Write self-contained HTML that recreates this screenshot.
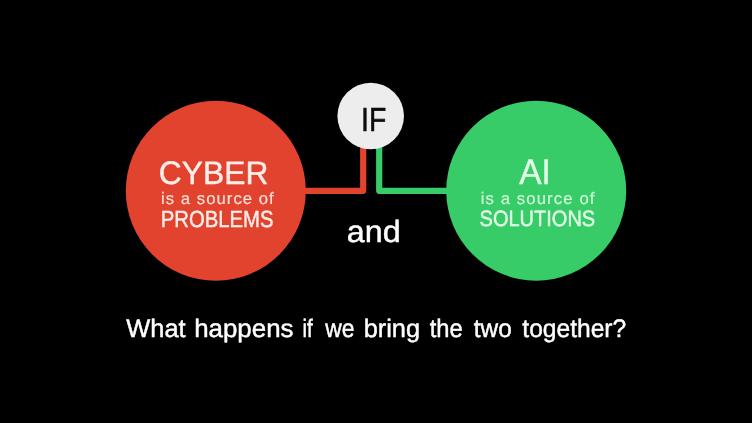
<!DOCTYPE html>
<html lang="en">
<head>
<meta charset="utf-8">
<title>Cyber and AI</title>
<style>
  html, body { margin: 0; padding: 0; background: #000; }
  body { width: 752px; height: 423px; overflow: hidden; }
  svg { display: block; will-change: transform; -webkit-font-smoothing: antialiased; }
  text { font-family: "Liberation Sans", sans-serif; text-rendering: geometricPrecision; }
  .hv { stroke: #fff; stroke-width: 0.45px; stroke-linejoin: round; }
</style>
</head>
<body>
<svg width="752" height="423" viewBox="0 0 752 423">
  <rect x="0" y="0" width="752" height="423" fill="#000"/>

  <!-- connectors -->
  <polyline points="300,190.8 363.2,190.8 363.2,140" fill="none" stroke="#e2432f" stroke-width="6.2" stroke-linejoin="round"/>
  <polyline points="450,190.8 379.2,190.8 379.2,140" fill="none" stroke="#37cc67" stroke-width="6.2" stroke-linejoin="round"/>

  <!-- circles -->
  <circle cx="215.8" cy="190.8" r="90" fill="#e2432f"/>
  <circle cx="536.2" cy="190.7" r="90" fill="#37cc67"/>
  <circle cx="370.7" cy="116" r="33.3" fill="#ededed"/>

  <!-- IF -->
  <text id="t-if" x="373.6" y="130.9" font-size="33.3" text-anchor="middle" fill="#0c0c0c" stroke="#0c0c0c" stroke-width="0.55" textLength="25.2" lengthAdjust="spacingAndGlyphs">IF</text>

  <!-- red circle text -->
  <g fill="#fdeee8" stroke="#fdeee8" stroke-width="0.45" stroke-linejoin="round" text-anchor="middle">
    <text id="t-cyber" x="213.6" y="184.2" font-size="32.5" textLength="109.5" lengthAdjust="spacingAndGlyphs">CYBER</text>
    <text id="t-src1" stroke-width="0.15" fill="#fbdcd4" x="217.9" y="203.5" font-size="16.7" letter-spacing="1.04">is a source of</text>
    <text id="t-prob" x="217.1" y="227.2" font-size="23.4" textLength="112.7" lengthAdjust="spacingAndGlyphs">PROBLEMS</text>
  </g>

  <!-- green circle text -->
  <g fill="#e2fbe7" stroke="#e2fbe7" stroke-width="0.45" stroke-linejoin="round" text-anchor="middle">
    <text id="t-ai" x="535.0" y="184.3" font-size="35.5" textLength="31.6" lengthAdjust="spacingAndGlyphs">AI</text>
    <text id="t-src2" stroke-width="0.15" fill="#cdf6d6" x="538.1" y="203.6" font-size="16.7" letter-spacing="1.12">is a source of</text>
    <text id="t-sol" x="537.4" y="226.3" font-size="22.2" textLength="115.6" lengthAdjust="spacingAndGlyphs">SOLUTIONS</text>
  </g>

  <!-- and -->
  <text class="hv" id="t-and" x="373.7" y="242.2" font-size="30.6" text-anchor="middle" fill="#fff" textLength="53.9" lengthAdjust="spacingAndGlyphs">and</text>

  <!-- sentence -->
  <text class="hv" id="t-q" y="337.2" font-size="25.4" fill="#fff"><tspan id="w0" x="126.3" textLength="59.3" lengthAdjust="spacingAndGlyphs">What</tspan> <tspan id="w1" x="194.2" textLength="99.3" lengthAdjust="spacingAndGlyphs">happens</tspan> <tspan id="w2" x="302.4" textLength="10.2" lengthAdjust="spacingAndGlyphs">if</tspan> <tspan id="w3" x="325.2" textLength="29.2" lengthAdjust="spacingAndGlyphs">we</tspan> <tspan id="w4" x="363.7" textLength="56.4" lengthAdjust="spacingAndGlyphs">bring</tspan> <tspan id="w5" x="429.7" textLength="33.0" lengthAdjust="spacingAndGlyphs">the</tspan> <tspan id="w6" x="473.8" textLength="37.9" lengthAdjust="spacingAndGlyphs">two</tspan> <tspan id="w7" x="522.3" textLength="103.9" lengthAdjust="spacingAndGlyphs">together?</tspan></text>
</svg>
</body>
</html>
